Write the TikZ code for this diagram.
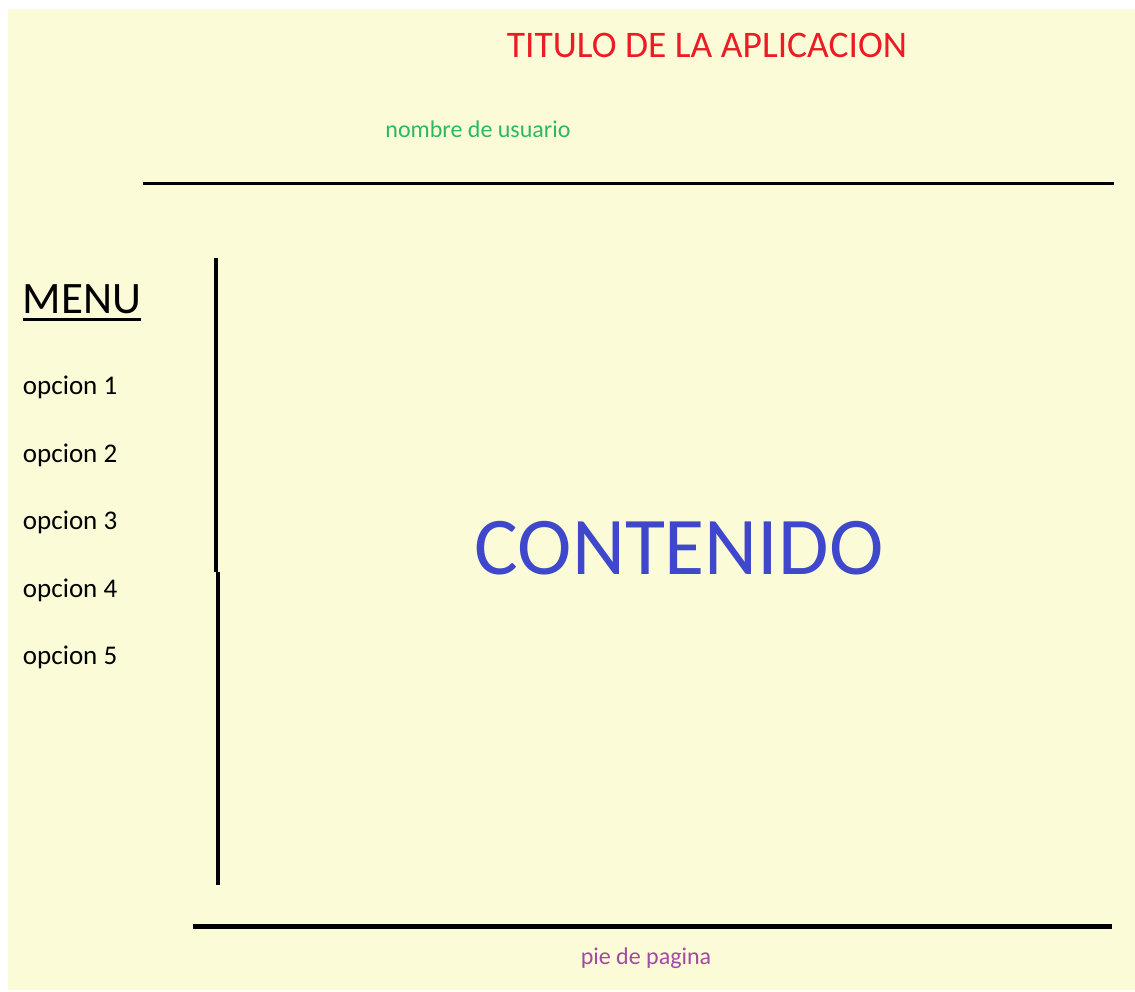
\documentclass[tikz,border=0pt]{standalone}
\usepackage{fontspec}
\setmainfont{Carlito}
\usepackage{xcolor}
\definecolor{fondo}{RGB}{251,252,215}
\definecolor{rojo}{RGB}{237,28,36}
\definecolor{verde}{RGB}{44,185,100}
\definecolor{azul}{RGB}{63,72,204}
\definecolor{morado}{RGB}{163,73,164}

\begin{document}
\begin{tikzpicture}[x=1pt,y=-1pt]
  \tikzstyle{every node}=[inner sep=0pt,outer sep=0pt]
  \tikzstyle{opcion}=[anchor=west,font=\fontsize{27}{32}\selectfont]
  \tikzstyle{raya}=[line width=3.5pt]
  \useasboundingbox (0,0) rectangle (1135,991);
  \fill[fondo] (8,9) rectangle (1135,990);
  \node[anchor=base,text=rojo,font=\fontsize{37.5}{45}\selectfont] (titulo) at (707,57) {TITULO DE LA APLICACION};
  \node[anchor=base,text=verde,font=\fontsize{24}{29}\selectfont] (usuario) at (478,137) {nombre de usuario};
  \node[anchor=base west,font=\fontsize{45}{54}\selectfont] (menu) at (23,313) {MENU};
  \draw[line width=3pt] ([yshift=-6pt]menu.base west) -- ([yshift=-6pt]menu.base east);
  \node[opcion] (op1) at (23,387) {opcion 1};
  \node[opcion] (op2) at (23,455) {opcion 2};
  \node[opcion] (op3) at (23,522) {opcion 3};
  \node[opcion] (op4) at (23,590) {opcion 4};
  \node[opcion] (op5) at (23,657) {opcion 5};
  \node[text=azul,font=\fontsize{82}{98}\selectfont] (contenido) at (679,548) {CONTENIDO};
  \node[text=morado,font=\fontsize{24}{29}\selectfont] (pie) at (646,958) {pie de pagina};
  % lineas de separacion
  \coordinate (cab-a) at (143,183.5);
  \coordinate (cab-b) at (628,183.5);
  \coordinate (cab-c) at (1114,183.5);
  \draw[raya] (cab-a) -- (cab-b);
  \draw[line width=3pt] (cab-b) -- (cab-c);
  \coordinate (lat-a) at (216,258);
  \coordinate (lat-b) at (216,572);
  \coordinate (lat-c) at (218,572);
  \coordinate (lat-d) at (218,885);
  \draw[raya] (lat-a) -- (lat-b);
  \draw[raya] (lat-c) -- (lat-d);
  \coordinate (pie-a) at (193,926.5);
  \coordinate (pie-b) at (1112,926.5);
  \draw[line width=4.5pt] (pie-a) -- (pie-b);
\end{tikzpicture}
\end{document}
